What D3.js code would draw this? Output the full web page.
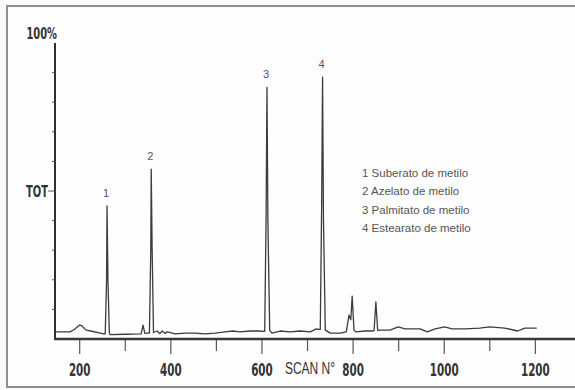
<!DOCTYPE html>
<html>
<head>
<meta charset="utf-8">
<script src="https://cdn.jsdelivr.net/npm/d3@7"></script>
<style>
  body { margin: 0; background: #fbfbfa; }
  svg { display: block; }
</style>
</head>
<body>
<div id="chart"></div>
<script>
// chromatogram trace: scan number, relative intensity (%)
const scans = [148, 179, 188, 200, 205, 214, 224, 245, 252, 256, 259, 260, 262, 265, 267, 300, 333, 335, 339, 343, 348, 353, 356, 357, 359, 362, 370, 376, 381, 387, 392, 410, 431, 453, 475, 497, 519, 536, 552, 574, 592, 606, 609, 611, 613, 617, 622, 640, 662, 684, 706, 719, 728, 731, 733, 735, 739, 750, 772, 785, 791, 795, 798, 802, 806, 826, 842, 846, 850, 854, 859, 881, 899, 914, 947, 963, 980, 1001, 1017, 1045, 1078, 1100, 1133, 1161, 1177, 1203];
const intensity = [2.4, 2.4, 3.2, 4.7, 4.4, 3.0, 2.7, 2.0, 1.7, 1.7, 20, 45, 20, 2.0, 1.5, 1.6, 1.7, 1.8, 4.7, 1.9, 2.0, 2.0, 30, 57.4, 30, 2.2, 2.7, 1.8, 2.7, 1.9, 2.4, 1.7, 2.0, 2.0, 1.7, 2.0, 2.4, 2.7, 2.4, 2.7, 2.7, 2.6, 40, 85, 40, 3.0, 2.0, 2.7, 2.4, 2.7, 2.4, 3.4, 3.2, 45, 88.5, 40, 3.0, 2.0, 2.0, 2.4, 8.1, 6.5, 14.5, 3.0, 2.4, 2.7, 2.7, 2.8, 12.5, 2.9, 3.0, 3.0, 4.1, 3.4, 3.4, 2.4, 3.4, 4.1, 3.4, 3.4, 3.7, 4.1, 3.7, 2.7, 3.7, 3.7];

// numbered peaks
const peakIds = ["1", "2", "3", "4"];
const peakScans = [260, 357, 611, 733];
const peakTops = [45, 57.4, 85, 88.5];

const legendLines = ["1 Suberato de metilo", "2 Azelato de metilo", "3 Palmitato de metilo", "4 Estearato de metilo"];
const xTicks = [200, 300, 400, 500, 600, 700, 800, 900, 1000, 1100, 1200];
const xLabels = ["200", "400", "600", "800", "1000", "1200"];
const yTicks = [0, 10, 20, 30, 40, 50, 60, 70, 80, 90, 100];

const width = 575, height = 390;

const svg = d3.select("#chart").append("svg")
  .attr("width", width)
  .attr("height", height);

// outer frame
svg.append("rect")
  .attr("x", 7).attr("y", 6)
  .attr("width", 580).attr("height", 381)
  .attr("fill", "#fefefe")
  .attr("stroke", "#8f8f8f")
  .attr("stroke-width", 2);

const x = d3.scaleLinear().domain([148, 1287]).range([56, 575]);
const y = d3.scaleLinear().domain([0, 100]).range([339, 43]);

// y axis
svg.append("line")
  .attr("x1", 55).attr("x2", 55)
  .attr("y1", y(100)).attr("y2", y(0))
  .attr("stroke", "#2e2e2e").attr("stroke-width", 2);

svg.selectAll("yTicks")
  .data(yTicks.slice(1, -1))
  .enter()
  .append("line")
    .attr("x1", d => d === 50 ? 48 : 52).attr("x2", 55)
    .attr("y1", d => y(d)).attr("y2", d => y(d))
    .attr("stroke", "#555").attr("stroke-width", 1);

// x axis
svg.append("line")
  .attr("x1", 54).attr("x2", 575)
  .attr("y1", 339).attr("y2", 339)
  .attr("stroke", "#3a3a3a").attr("stroke-width", 2.5);

svg.selectAll("xTicks")
  .data(xTicks)
  .enter()
  .append("line")
    .attr("x1", d => x(d)).attr("x2", d => x(d))
    .attr("y1", 340)
    .attr("y2", d => d % 200 === 0 ? 354 : 351)
    .attr("stroke", "#555").attr("stroke-width", 1.2);

const tickFont = "'Liberation Sans Narrow', 'DejaVu Sans', sans-serif";

svg.selectAll("xLabels")
  .data(xLabels)
  .enter()
  .append("text")
    .text(d => d)
    .attr("transform", d => "translate(" + x(+d) + ",376) scale(1,1.5)")
    .attr("text-anchor", "middle")
    .attr("font-family", tickFont)
    .attr("font-stretch", "condensed")
    .attr("font-weight", "bold")
    .attr("font-size", 11.5)
    .attr("fill", "#333");

svg.append("text")
  .text("SCAN N°")
  .attr("transform", "translate(310,374) scale(1,1.3)")
  .attr("text-anchor", "middle")
  .attr("font-family", "'Liberation Sans', Arial, sans-serif")
  .attr("font-size", 12)
  .attr("fill", "#333");

svg.append("text")
  .text("100%")
  .attr("transform", "translate(57,39) scale(1,1.4)")
  .attr("text-anchor", "end")
  .attr("font-family", tickFont)
  .attr("font-stretch", "condensed")
  .attr("font-weight", "bold")
  .attr("font-size", 11)
  .attr("fill", "#333");

svg.append("text")
  .text("TOT")
  .attr("transform", "translate(37,197) scale(1,1.4)")
  .attr("text-anchor", "middle")
  .attr("font-family", tickFont)
  .attr("font-stretch", "condensed")
  .attr("font-weight", "bold")
  .attr("font-size", 11)
  .attr("fill", "#333");

// trace
const trace = d3.line()
  .x((d, i) => x(scans[i]))
  .y(d => y(d));

svg.append("path")
  .datum(intensity)
  .attr("d", trace)
  .attr("fill", "none")
  .attr("stroke", "#3c3c3c")
  .attr("stroke-width", 1.3)
  .attr("stroke-linejoin", "round");

// peak numbers
svg.selectAll("peakLabels")
  .data(peakIds)
  .enter()
  .append("text")
    .text(d => d)
    .attr("x", (d, i) => x(peakScans[i]) - 1)
    .attr("y", (d, i) => y(peakTops[i]) - 9)
    .attr("text-anchor", "middle")
    .attr("font-family", "'Liberation Sans', Arial, sans-serif")
    .attr("font-size", 11)
    .attr("fill", "#555");

// legend
svg.selectAll("legend")
  .data(legendLines)
  .enter()
  .append("text")
    .text(d => d)
    .attr("x", 362)
    .attr("y", (d, i) => 177 + i * 18.4)
    .attr("font-family", "'Liberation Sans', Arial, sans-serif")
    .attr("font-size", 11.5)
    .attr("fill", "#555");
</script>
</body>
</html>
